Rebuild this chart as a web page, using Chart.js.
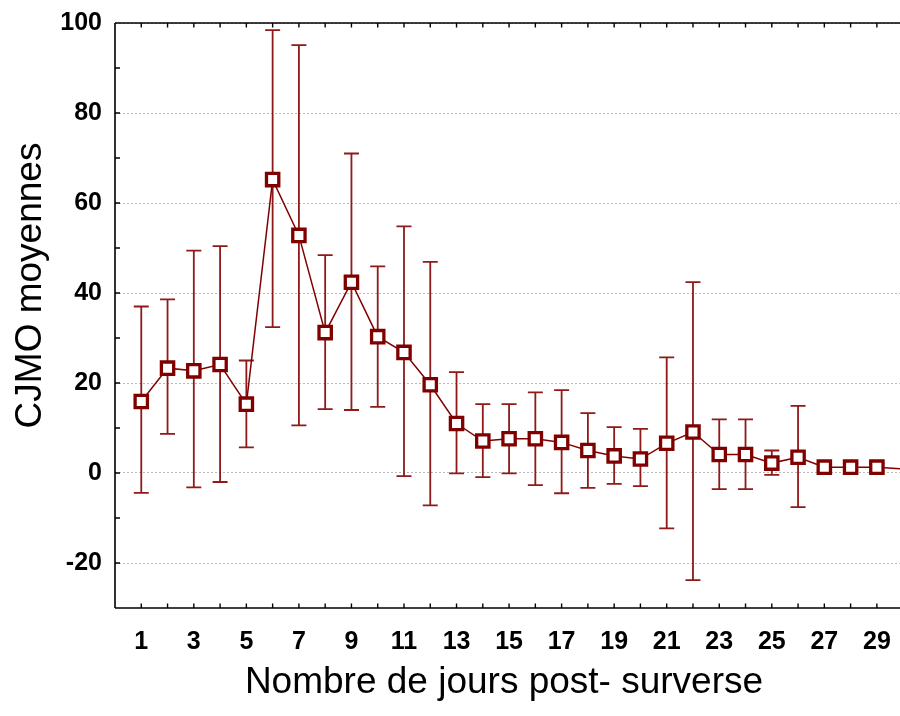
<!DOCTYPE html>
<html>
<head>
<meta charset="utf-8">
<script src="https://cdn.jsdelivr.net/npm/chart.js@4"></script>
<style>
    html, body { margin: 0; padding: 0; background: #fff; overflow: hidden; }
    #wrap { width: 900px; height: 716px; }
</style>
</head>
<body>
<div id="wrap"><canvas id="chart" width="900" height="716"></canvas></div>
<script>
/* --------------------------
   DATA
-------------------------- */
const days  = [1, 2, 3, 4, 5, 6, 7, 8, 9, 10, 11, 12, 13, 14, 15,
               16, 17, 18, 19, 20, 21, 22, 23, 24, 25, 26, 27, 28, 29, 30];
const means = [15.9, 23.3, 22.7, 24.1, 15.3, 65.2, 52.8, 31.2, 42.4, 30.3, 26.8, 19.6, 11.0, 7.1, 7.6,
               7.6, 6.8, 5.0, 3.8, 3.1, 6.6, 9.1, 4.1, 4.1, 2.2, 3.5, 1.3, 1.3, 1.3, 0.9];
const lower = [-4.4, 8.7, -3.2, -2.0, 5.7, 32.4, 10.6, 14.2, 14.0, 14.7, -0.7, -7.2, -0.1, -0.9, -0.1,
               -2.7, -4.5, -3.3, -2.4, -2.9, -12.3, -23.8, -3.6, -3.6, -0.4, -7.6, 0.4, 0.4, 0.4, null];
const upper = [37.0, 38.6, 49.4, 50.4, 25.0, 98.4, 95.1, 48.4, 71.0, 45.9, 54.8, 46.9, 22.4, 15.3, 15.3,
               17.9, 18.4, 13.3, 10.2, 9.8, 25.7, 42.4, 11.9, 11.9, 5.0, 14.9, 2.2, 2.2, 2.2, null];

const xTickLabels = [1, 3, 5, 7, 9, 11, 13, 15, 17, 19, 21, 23, 25, 27, 29];
const yTickLabels = [-20, 0, 20, 40, 60, 80, 100];

const xTitle = "Nombre de jours post- surverse";
const yTitle = "CJMO moyennes";

const RED = "#800000";
const TICK_FONT = { family: "'Liberation Sans', Arial, sans-serif", size: 25, weight: "bold" };

/* --------------------------
   ERROR BARS (under the line)
-------------------------- */
const errorBars = {
    id: "errorBars",
    beforeDatasetsDraw(chart) {
        const { ctx, scales: { x, y } } = chart;
        ctx.save();
        ctx.strokeStyle = "#8e1a1a";
        ctx.lineWidth = 1.8;
        days.forEach((d, i) => {
            if (lower[i] == null || upper[i] == null) return;
            const px = x.getPixelForValue(d);
            const top = y.getPixelForValue(upper[i]);
            const bot = y.getPixelForValue(lower[i]);
            ctx.beginPath();
            ctx.moveTo(px, top); ctx.lineTo(px, bot);
            ctx.moveTo(px - 7.5, top); ctx.lineTo(px + 7.5, top);
            ctx.moveTo(px - 7.5, bot); ctx.lineTo(px + 7.5, bot);
            ctx.stroke();
        });
        ctx.restore();
    }
};

/* --------------------------
   FRAME, INNER TICKS, TITLES
-------------------------- */
const frame = {
    id: "frame",
    afterDraw(chart) {
        const { ctx, chartArea: a, scales: { x, y } } = chart;
        ctx.save();
        ctx.strokeStyle = "#000";
        ctx.lineWidth = 1.6;
        ctx.beginPath();
        ctx.moveTo(a.left, a.top); ctx.lineTo(a.left, a.bottom);
        ctx.moveTo(a.left, a.bottom); ctx.lineTo(a.right, a.bottom);
        ctx.moveTo(a.left, a.top); ctx.lineTo(a.right, a.top);
        ctx.stroke();

        ctx.lineWidth = 1.4;
        ctx.beginPath();
        for (let d = 1; d <= Math.floor(x.max); d++) {
            const px = x.getPixelForValue(d);
            ctx.moveTo(px, a.bottom); ctx.lineTo(px, a.bottom - 4.5);
            ctx.moveTo(px, a.top); ctx.lineTo(px, a.top + 4.5);
        }
        for (let v = -20; v < 100; v += 10) {
            const py = y.getPixelForValue(v);
            ctx.moveTo(a.left, py); ctx.lineTo(a.left + 5, py);
        }
        ctx.stroke();

        ctx.fillStyle = "#000";
        ctx.font = "37px 'Liberation Sans', Arial, sans-serif";
        ctx.textAlign = "center";
        ctx.textBaseline = "alphabetic";
        ctx.fillText(xTitle, 504, 693);

        ctx.translate(41, 285.5);
        ctx.rotate(-Math.PI / 2);
        ctx.fillText(yTitle, 0, 0);
        ctx.restore();
    }
};

/* --------------------------
   CHART
-------------------------- */
new Chart(document.getElementById("chart"), {
    type: "line",
    data: {
        datasets: [{
            data: days.map((d, i) => ({ x: d, y: means[i] })),
            borderColor: RED,
            borderWidth: 1.5,
            tension: 0,
            pointStyle: "rect",
            pointRadius: ctx => ctx.dataIndex < 29 ? 8.7 : 0,
            pointBackgroundColor: "#fff",
            pointBorderColor: RED,
            pointBorderWidth: 3.3
        }]
    },
    options: {
        responsive: false,
        animation: false,
        events: [],
        layout: { autoPadding: false, padding: { top: 23, left: 0, right: 0, bottom: 0 } },
        plugins: {
            legend: { display: false },
            tooltip: { enabled: false }
        },
        scales: {
            x: {
                type: "linear",
                min: 0,
                max: 29.88,
                afterBuildTicks: s => { s.ticks = xTickLabels.map(v => ({ value: v })); },
                afterFit: s => { s.height = 108; s.paddingLeft = 0; s.paddingRight = 0; },
                grid: { display: false, drawTicks: false },
                border: { display: false },
                ticks: {
                    autoSkip: false,
                    maxRotation: 0,
                    padding: 19,
                    color: "#000",
                    font: TICK_FONT
                }
            },
            y: {
                min: -30,
                max: 100,
                afterBuildTicks: s => { s.ticks = yTickLabels.map(v => ({ value: v })); },
                afterFit: s => { s.width = 115; s.paddingTop = 0; s.paddingBottom = 0; },
                grid: { color: "#b8b8b8", lineWidth: 1, drawTicks: false },
                border: { display: false, dash: [2, 2] },
                ticks: {
                    padding: 13,
                    color: "#000",
                    font: TICK_FONT
                }
            }
        }
    },
    plugins: [errorBars, frame]
});
</script>
</body>
</html>
